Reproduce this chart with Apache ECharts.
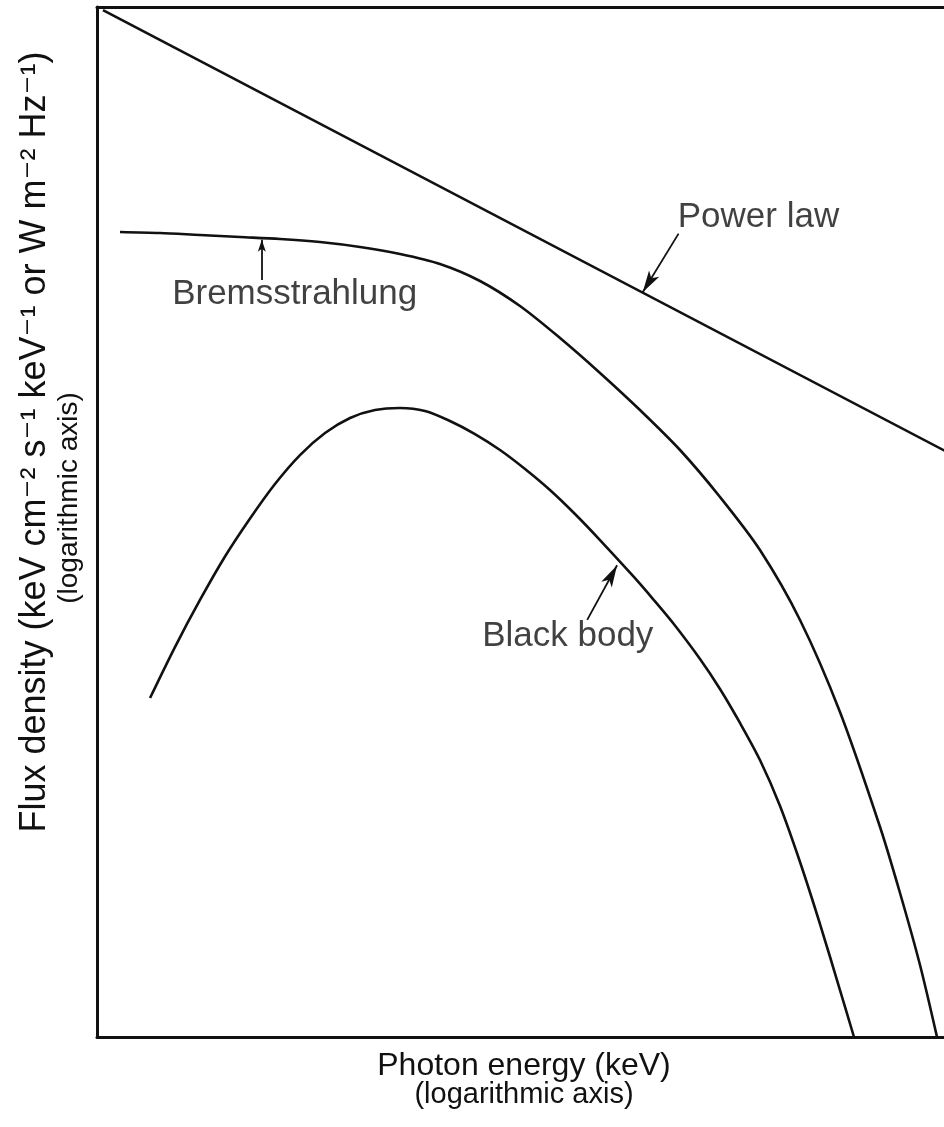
<!DOCTYPE html>
<html>
<head>
<meta charset="utf-8">
<title>Spectral shapes</title>
<script src="https://cdn.jsdelivr.net/npm/echarts@6/dist/echarts.min.js"></script>
<style>
  html, body { margin: 0; padding: 0; background: #fff; }
  #chart { width: 944px; height: 1127px; }
</style>
</head>
<body>
<div id="chart"></div>
<script>
// Axes are in arbitrary log units: x = log photon energy, y = log flux density.
const powerLaw = [[0.07, 9.97], [10.0, 5.66]];

const bremsstrahlung = [
  [0.269, 7.816], [0.738, 7.806], [1.206, 7.786], [1.674, 7.767], [2.143, 7.748],
  [2.611, 7.718], [3.080, 7.670], [3.548, 7.602], [4.016, 7.505], [4.485, 7.340],
  [4.953, 7.097], [5.422, 6.786], [5.890, 6.447], [6.358, 6.087], [6.827, 5.699],
  [7.295, 5.243], [7.763, 4.728], [8.232, 4.049], [8.700, 3.155], [9.169, 2.039],
  [9.403, 1.398], [9.637, 0.699], [9.836, 0.000]
];

const blackBody = [
  [0.621, 3.291], [0.913, 3.786], [1.206, 4.243], [1.499, 4.665], [1.792, 5.034],
  [2.084, 5.369], [2.377, 5.650], [2.670, 5.864], [2.963, 6.010], [3.255, 6.087],
  [3.548, 6.107], [3.841, 6.078], [4.133, 5.981], [4.426, 5.854], [4.719, 5.699],
  [5.012, 5.515], [5.304, 5.311], [5.597, 5.078], [5.890, 4.825], [6.276, 4.476],
  [6.511, 4.252], [6.745, 4.019], [7.061, 3.670], [7.295, 3.379], [7.529, 3.049],
  [7.763, 2.689], [7.998, 2.243], [8.232, 1.699], [8.466, 1.097], [8.700, 0.456],
  [8.864, 0.000]
];

// Curve labels: [x, y, text]
const curveLabels = [
  [6.80, 7.96, 'Power law'],
  [0.88, 7.21, 'Bremsstrahlung'],
  [4.51, 3.89, 'Black body']
];

// Pointer arrows: [tailX, tailY, tipX, tipY, headWidth, headLength]
const pointers = [
  [6.81, 7.80, 6.39, 7.23, 9, 22],
  [1.93, 7.35, 1.93, 7.74, 6, 12],
  [5.74, 4.05, 6.09, 4.58, 9, 22]
];

const xTitleMain = 'Photon energy (keV)';
const xTitleSub = '(logarithmic axis)';
const yTitle = 'Flux density (keV cm\u207B\u00B2 s\u207B\u00B9 keV\u207B\u00B9 or W m\u207B\u00B2 Hz\u207B\u00B9)';
const yTitleSub = '(logarithmic axis)';

const FONT = '"Liberation Sans", "DejaVu Sans", sans-serif';
const INK = '#111';

const chart = echarts.init(document.getElementById('chart'), null, { renderer: 'canvas' });

const curveStyle = { color: INK, width: 2.6 };
const frameLine = { show: true, lineStyle: { color: INK, width: 3 } };
const hidden = { show: false };

chart.setOption({
  animation: false,
  backgroundColor: '#fff',
  // The plot box runs past the right edge of the page; only left, top and bottom show.
  grid: { left: 97, top: 7, width: 854, bottom: 90, outerBoundsMode: 'none', show: false },
  xAxis: [
    {
      type: 'value', min: 0, max: 10, position: 'bottom',
      axisLine: frameLine, axisTick: hidden, axisLabel: hidden, splitLine: hidden,
      name: '{a|' + xTitleMain + '}\n{b|' + xTitleSub + '}',
      nameLocation: 'middle', nameGap: 14,
      nameTextStyle: {
        verticalAlign: 'top', color: INK, fontFamily: FONT,
        rich: {
          a: { fontFamily: FONT, fontSize: 32, lineHeight: 30, color: INK },
          b: { fontFamily: FONT, fontSize: 29, lineHeight: 28, color: INK }
        }
      }
    },
    {
      type: 'value', min: 0, max: 10, position: 'top',
      axisLine: frameLine, axisTick: hidden, axisLabel: hidden, splitLine: hidden
    }
  ],
  yAxis: {
    type: 'value', min: 0, max: 10, position: 'left',
    axisLine: frameLine, axisTick: hidden, axisLabel: hidden, splitLine: hidden
  },
  graphic: [
    {
      type: 'text', x: 35, y: 442, rotation: Math.PI / 2,
      style: { text: yTitle, font: '36px ' + FONT, fill: INK, align: 'center', verticalAlign: 'middle' }
    },
    {
      type: 'text', x: 69, y: 498, rotation: Math.PI / 2,
      style: { text: yTitleSub, font: '28px ' + FONT, fill: INK, align: 'center', verticalAlign: 'middle' }
    }
  ],
  series: [
    {
      name: 'Power law', type: 'line', data: powerLaw,
      showSymbol: false, lineStyle: curveStyle, silent: true
    },
    {
      name: 'Bremsstrahlung', type: 'line', data: bremsstrahlung, smooth: 0.3,
      showSymbol: false, lineStyle: curveStyle, silent: true
    },
    {
      name: 'Black body', type: 'line', data: blackBody, smooth: 0.3,
      showSymbol: false, lineStyle: curveStyle, silent: true
    },
    {
      name: 'labels', type: 'scatter', symbolSize: 0, silent: true,
      data: curveLabels.map(d => ({ value: [d[0], d[1]], name: d[2] })),
      label: {
        show: true, position: 'right', distance: 0,
        formatter: p => p.name,
        fontFamily: FONT, fontSize: 35, color: INK
      }
    },
    {
      name: 'pointers', type: 'line', data: [], silent: true,
      markLine: {
        silent: true, animation: false,
        label: { show: false },
        emphasis: { disabled: true },
        data: pointers.map(d => [
          { coord: [d[0], d[1]], symbol: 'none' },
          { coord: [d[2], d[3]], symbol: 'arrow', symbolSize: [d[4], d[5]] }
        ]),
        lineStyle: { color: INK, width: 1.8, type: 'solid' }
      }
    }
  ]
});
</script>
</body>
</html>
